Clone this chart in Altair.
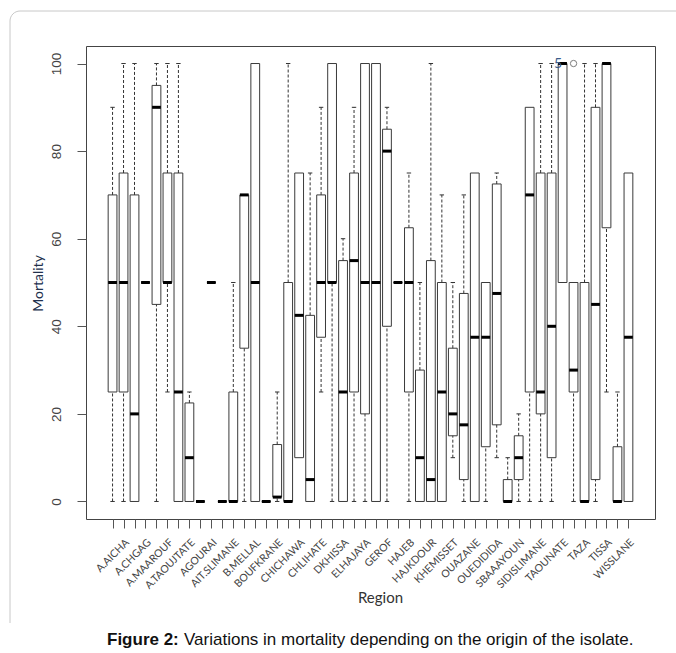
import json
import altair as alt
import pandas as pd

# ---- data ----
region_labels = ["A.AICHA", "A.CHGAG", "A.MAAROUF", "A.TAOUJTATE", "AGOURAI", "AIT.SLIMANE",
                 "B.MELLAL", "BOUFKRANE", "CHICHAWA", "CHLIHATE", "DKHISSA", "ELHAJAYA",
                 "GEROF", "HAJEB", "HAJKDOUR", "KHEMISSET", "OUAZANE", "OUEDIDIDA",
                 "SBAAAYOUN", "SIDISLIMANE", "TAOUNATE", "TAZA", "TISSA", "WISSLANE"]
box_idx = list(range(1, 49))
w_lo = [0, 0, 0, 50, 0, 25, 0, 0, 0, 50, 0, 0, 0, 0, 0, 0, 0, 10, 0, 25, 0, 0, 0, 0,
        0, 0, 50, 0, 0, 0, 0, 10, 0, 0, 0, 10, 0, 0, 0, 0, 0, 50, 0, 0, 0, 25, 0, 0]
q1 = [25, 25, 0, 50, 45, 50, 0, 0, 0, 50, 0, 0, 35, 0, 0, 1, 0, 10, 0, 37.5, 50, 0, 25, 20,
      0, 40, 50, 25, 0, 0, 0, 15, 5, 0, 12.5, 17.5, 0, 5, 25, 20, 10, 50, 25, 0, 5, 62.5, 0, 0]
med = [50, 50, 20, 50, 90, 50, 25, 10, 0, 50, 0, 0, 70, 50, 0, 1, 0, 42.5, 5, 50, 50, 25, 55, 50,
       50, 80, 50, 50, 10, 5, 25, 20, 17.5, 37.5, 37.5, 47.5, 0, 10, 70, 25, 40, 100, 30, 0, 45, 100, 0, 37.5]
q3 = [70, 75, 70, 50, 95, 75, 75, 22.5, 0, 50, 0, 25, 70, 100, 0, 13, 50, 75, 42.5, 70, 100, 55, 75, 100,
      100, 85, 50, 62.5, 30, 55, 50, 35, 47.5, 75, 50, 72.5, 5, 15, 90, 75, 75, 100, 50, 50, 90, 100, 12.5, 75]
w_hi = [90, 100, 100, 50, 100, 100, 100, 25, 0, 50, 0, 50, 70, 100, 0, 25, 100, 75, 75, 90, 100, 60, 90, 100,
        100, 90, 50, 75, 50, 100, 70, 50, 70, 75, 50, 75, 10, 20, 90, 100, 100, 100, 50, 100, 100, 100, 25, 75]
outlier_idx = [43]
outlier_val = [100]

df = pd.DataFrame({"idx": box_idx, "lo": w_lo, "q1": q1, "med": med, "q3": q3, "hi": w_hi})
out_df = pd.DataFrame({"idx": outlier_idx, "v": outlier_val})
one = pd.DataFrame({"a": [0]})

X = alt.Scale(domain=[-1.42, 50.42], nice=False, zero=False)
Y = alt.Scale(domain=[-4, 104], nice=False, zero=False)

label_expr = ("datum.value % 2 == 0 ? " + json.dumps(region_labels) +
              "[datum.value / 2 - 1] : ''")

xaxis = alt.Axis(values=box_idx, labelExpr=label_expr, labelAngle=-45, labelAlign="right",
                 labelBaseline="top", labelFont="Lato", labelFontSize=10.5, labelColor="#444",
                 labelPadding=9, labelOverlap=False, labelFlush=False,
                 tickSize=9, tickColor="#555", domain=False, grid=False,
                 title="Region", titleFont="Lato", titleFontSize=15, titleFontWeight="normal",
                 titleColor="#333", titleX=294, titleY=78, titleAlign="center", titleBaseline="middle")
yaxis = alt.Axis(values=[0, 20, 40, 60, 80, 100], labelAngle=-90, labelAlign="center",
                 labelBaseline="bottom", labelFont="Liberation Sans", labelFontSize=13.5,
                 labelColor="#444", labelPadding=14, tickSize=9, tickColor="#555",
                 domain=False, grid=False,
                 title="Mortality", titleFont="Lato", titleFontSize=14, titleFontWeight="normal",
                 titleColor="#22304d", titleX=-48, titleY=237, titleAngle=-90,
                 titleAlign="center", titleBaseline="middle")


def xe(field):
    return alt.X(field, scale=X, axis=xaxis)


def ye(field):
    return alt.Y(field, scale=Y, axis=yaxis)


base = alt.Chart(df).transform_calculate(
    xl="datum.idx - 0.4", xr="datum.idx + 0.4",
    cl="datum.idx - 0.2", cr="datum.idx + 0.2")

outer = alt.Chart(one).mark_rect(fill="transparent", stroke="#c8c8c8", strokeWidth=1,
                                 cornerRadius=10).encode(
    x=alt.value(-76), x2=alt.value(640), y=alt.value(-35), y2=alt.value(1000))
cover = alt.Chart(one).mark_rect(fill="white").encode(
    x=alt.value(-86), x2=alt.value(15), y=alt.value(577), y2=alt.value(620))

box = base.mark_rect(fill="white", stroke="#3a3a3a", strokeWidth=1).encode(
    x=xe("xl:Q"), x2="xr:Q", y=ye("q1:Q"), y2="q3:Q")
up = base.transform_filter("datum.hi > datum.q3").mark_rule(
    strokeDash=[3, 2], color="#333", strokeWidth=1).encode(
    x=xe("idx:Q"), y=ye("q3:Q"), y2="hi:Q")
down = base.transform_filter("datum.lo < datum.q1").mark_rule(
    strokeDash=[3, 2], color="#333", strokeWidth=1).encode(
    x=xe("idx:Q"), y=ye("lo:Q"), y2="q1:Q")
cap_hi = base.transform_filter("datum.hi > datum.q3").mark_rule(color="#333", strokeWidth=1).encode(
    x=xe("cl:Q"), x2="cr:Q", y=ye("hi:Q"))
cap_lo = base.transform_filter("datum.lo < datum.q1").mark_rule(color="#333", strokeWidth=1).encode(
    x=xe("cl:Q"), x2="cr:Q", y=ye("lo:Q"))
median = base.mark_rule(color="black", strokeWidth=3, strokeCap="butt").encode(
    x=xe("xl:Q"), x2="xr:Q", y=ye("med:Q"))
outl = alt.Chart(out_df).mark_point(shape="circle", size=40, filled=False, color="#444",
                                    strokeWidth=1).encode(x=xe("idx:Q"), y=ye("v:Q"))
stray = alt.Chart(one).mark_text(text="5", font="Lato", fontSize=14, color="#3b5b8a",
                                 align="center", baseline="middle").encode(
    x=alt.value(472), y=alt.value(18))
cap_b = alt.Chart(one).mark_text(text="Figure 2:", font="Liberation Sans", fontSize=17,
                                 fontWeight="bold", align="left", baseline="middle",
                                 color="#111").encode(x=alt.value(21), y=alt.value(594))
cap_n = alt.Chart(one).mark_text(text="Variations in mortality depending on the origin of the isolate.",
                                 font="Liberation Sans", fontSize=17, align="left",
                                 baseline="middle", color="#111").encode(
    x=alt.value(98), y=alt.value(594))

chart = alt.layer(box, outer, cover, up, down, cap_hi, cap_lo, median, outl, stray, cap_b, cap_n).properties(
    width=569, height=473,
    autosize=alt.AutoSizeParams(type="none"),
    padding={"left": 86, "top": 46, "right": 21, "bottom": 134},
    background="white",
).configure_view(stroke="#444", strokeWidth=1)

chart.save("out.html", embed_options={"renderer": "svg", "actions": False})
